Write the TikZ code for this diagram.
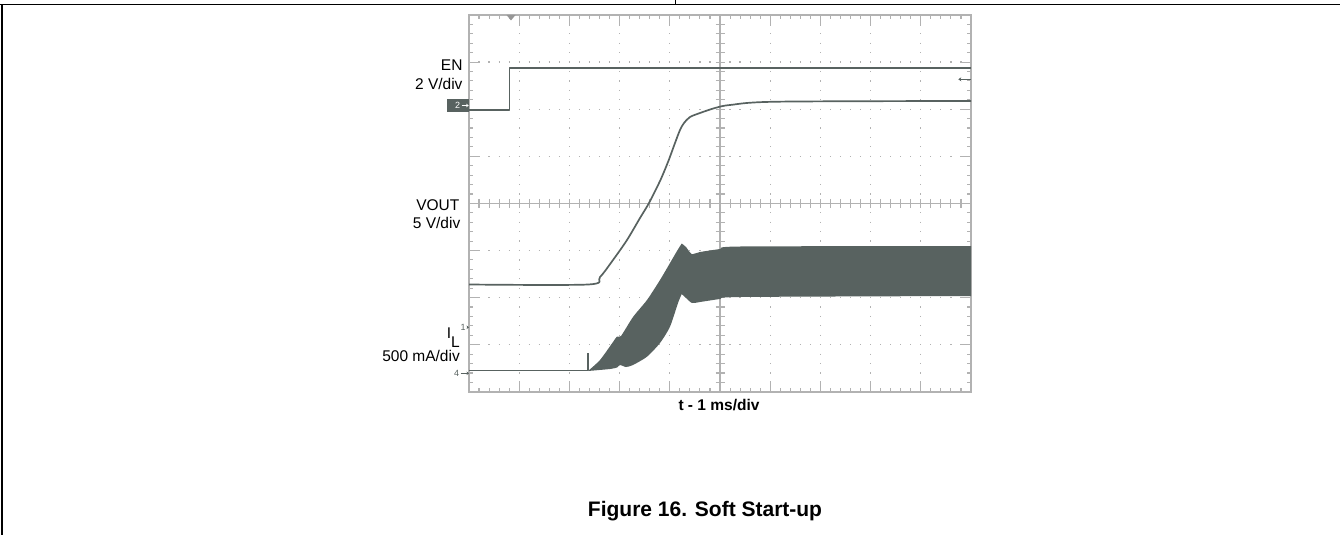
\documentclass[tikz,border=0pt]{standalone}
\usepackage{fontspec}
\setmainfont{Liberation Sans}
\usetikzlibrary{positioning,arrows.meta}
\definecolor{trace}{RGB}{88,98,96}
\definecolor{scopegrid}{RGB}{178,178,178}
\newcommand{\xdiv}{50.2}
\newcommand{\ydiv}{47.1}

\begin{document}
\begin{tikzpicture}[x=1pt,y=-1pt,
    lbl/.style={font=\fontsize{15.5}{18}\selectfont, inner sep=0pt, anchor=base east},
    chnum/.style={font=\fontsize{9}{9}\selectfont, inner sep=0pt, text=trace},
    chbox/.style={fill=trace, minimum width=22pt, minimum height=12.5pt, inner sep=0pt},
    trc/.style={draw=trace, line width=1.7pt, line join=round},
    frm/.style={draw=scopegrid, line width=1.1pt},
    dotline/.style={draw=scopegrid, line width=1.3pt}]
\useasboundingbox (0,0) rectangle (1340,535);
% page rules
\draw[line width=1.3pt] (0,4.3) -- (1340,4.3);
\draw[line width=1pt] (675,0) -- (675,4.3);
\draw[line width=1.3pt] (2,4.3) -- (2,535);

% scope screen
\begin{scope}[shift={(469,15)}]
  \foreach \i in {1,2,3,4,6,7,8,9}
    \draw[dotline, dash pattern=on 1.2pt off 8.22pt] (\i*\xdiv,8.82) -- (\i*\xdiv,377);
  \foreach \j in {1,2,3,5,6,7}
    \draw[dotline, dash pattern=on 1.2pt off 8.84pt] (9.44,\j*\ydiv) -- (502,\j*\ydiv);
  \draw[frm] (0,0) rectangle (502,377);
  \foreach \k in {1,...,49} {
    \draw[frm] (\k*10.04,0) -- ++(0,4);
    \draw[frm] (\k*10.04,377) -- ++(0,-4);
    \draw[frm] (\k*10.04,4*\ydiv-4.5) -- ++(0,9);
  }
  \foreach \k in {1,...,39} {
    \draw[frm] (0,\k*9.42) -- ++(4,0);
    \draw[frm] (502,\k*9.42) -- ++(-4,0);
    \draw[frm] (5*\xdiv-4.5,\k*9.42) -- ++(9,0);
  }
  \foreach \i in {1,...,9} {
    \draw[frm] (\i*\xdiv,0) -- ++(0,11);
    \draw[frm] (\i*\xdiv,377) -- ++(0,-11);
  }
  \foreach \j in {1,...,7} {
    \draw[frm] (0,\j*\ydiv) -- ++(11,0);
    \draw[frm] (502,\j*\ydiv) -- ++(-11,0);
  }
  \draw[frm] (0,4*\ydiv) -- (502,4*\ydiv);
  \draw[frm] (5*\xdiv,0) -- (5*\xdiv,377);
\end{scope}

% trigger mark
\fill[scopegrid!85!black] (506.5,15) -- (515.5,15) -- (511,20.5) -- cycle;

% EN
\draw[trc] (469,110) -- (509.5,110) -- (509.5,68.3) -- (971,68.3);
% VOUT
\draw[trc] plot[smooth, tension=0.5] coordinates {(469,284.5) (588,284.5) (600,277) (613,260)
  (627,240) (640,218) (649,203) (660,181) (668,162) (675,143) (680,130) (684,123) (690,117)
  (700,113) (715,108) (730,105) (777,101.7) (971,101)};
% IL
\draw[trc] (469,370.5) -- (588.3,370.5) -- (588.3,353.3);
\fill[trace] plot[smooth, tension=0.4] coordinates {(588,371) (600,360) (613,342) (617,336.5)
    (621,336) (633,317) (647,300) (660,280) (670,263) (677,251) (681.7,243.5)}
  -- plot[smooth, tension=0.4] coordinates {(681.7,243.5) (686,247) (691.7,254) (700,252)
    (720,249) (740,246.5) (971,246)}
  -- (971,296)
  -- plot[smooth, tension=0.4] coordinates {(971,296) (740,297) (720,299) (700,302) (692,303)
    (686,298) (681.7,294)}
  -- plot[smooth, tension=0.4] coordinates {(681.7,294) (678,303) (670,326.7) (660,343)
    (647,356.7) (633,365) (626,367) (620,365) (617,367.5) (610,369) (588,371)}
  -- cycle;
% level marker
\draw[trace, line width=1pt, -{Stealth[length=3pt,width=4pt]}] (970.5,79.3) -- (958.3,79.3);

% channel markers
\node[chbox] (ch2) at (458.3,105.5) {};
\node[chnum, text=white] (ch2n) at (457.5,105.5) {2};
\draw[white, line width=0.8pt, -{Stealth[length=2.5pt,width=3.5pt]}] (ch2n.east) ++(1.5,0) -- ++(7,0);
\node[chnum] (ch1) at (463,327.3) {1};
\draw[trace, line width=0.8pt, -{Stealth[length=2.5pt,width=3.5pt]}] (ch1.east) ++(0.8,0) -- (469,327.3);
\node[chnum] (ch4) at (456.5,373.3) {4};
\draw[trace, line width=0.8pt, -{Stealth[length=2.5pt,width=3.5pt]}] (ch4.east) ++(1.5,0) -- (469,373.3);

% channel labels
\node[lbl] (en) at (462.7,70.7) {EN};
\node[lbl] (endiv) at (462.7,89.3) {2 V/div};
\node[lbl] (vout) at (459.5,210) {VOUT};
\node[lbl] (voutdiv) at (460.5,228.3) {5 V/div};
\node[lbl] (il) at (460,338) {I\raisebox{-9pt}{L}};
\node[lbl] (ildiv) at (460,361.7) {500 mA/div};

% axis and caption
\node[font=\bfseries\fontsize{15.5}{18}\selectfont, inner sep=0pt, anchor=base] (taxis) at (719,410) {t - 1 ms/div};
\node[font=\bfseries\fontsize{21}{24}\selectfont, inner sep=0pt, anchor=base] (caption) at (705,516) {Figure 16. Soft Start-up};
\end{tikzpicture}
\end{document}
